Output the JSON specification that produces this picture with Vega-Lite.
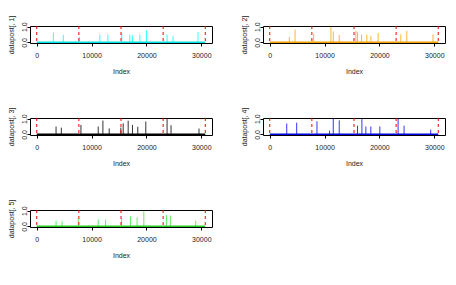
{
  "$schema": "https://vega.github.io/schema/vega-lite/v6.json",
  "background": "white",
  "padding": {"left": 6, "top": 14, "right": 0, "bottom": 0},
  "columns": 2,
  "spacing": {"row": 31, "column": 26},
  "config": {
    "view": {"stroke": "black", "strokeWidth": 1},
    "axis": {
      "grid": false, "domain": false, "tickColor": "black", "tickSize": 3, "tickWidth": 1,
      "labelFont": "Liberation Sans", "labelFontSize": 7, "labelColor": "#222",
      "titleFont": "Liberation Sans", "titleFontSize": 7, "titleFontWeight": "normal", "titleColor": "#222",
      "labelOverlap": false, "labelFlush": false
    },
    "axisX": {"labelPadding": 5, "titlePadding": 9, "labelBaseline": "top", "format": "d"},
    "axisY": {"labelAngle": -90, "labelAlign": "center", "labelBaseline": "alphabetic", "labelPadding": 1, "titlePadding": 6}
  },
  "datasets": {
    "vlines": [{"x": 0}, {"x": 7680}, {"x": 15360}, {"x": 23040}, {"x": 30720}],
    "s1": [
      {"i": 3030, "v": 0.62}, {"i": 4850, "v": 0.47}, {"i": 7750, "v": 0.35}, {"i": 11500, "v": 0.5}, {"i": 12970, "v": 0.51},
      {"i": 15500, "v": 0.6}, {"i": 16970, "v": 0.5}, {"i": 17450, "v": 0.44}, {"i": 18800, "v": 0.49}, {"i": 20000, "v": 0.76},
      {"i": 23760, "v": 0.5}, {"i": 24850, "v": 0.42}, {"i": 29400, "v": 0.66}
    ],
    "s2": [
      {"i": 3580, "v": 0.34}, {"i": 4620, "v": 0.82}, {"i": 8000, "v": 0.54}, {"i": 11160, "v": 0.99}, {"i": 11580, "v": 0.69},
      {"i": 12670, "v": 0.47}, {"i": 15700, "v": 0.74}, {"i": 16000, "v": 0.64}, {"i": 16730, "v": 0.49}, {"i": 17700, "v": 0.5},
      {"i": 18430, "v": 0.42}, {"i": 19760, "v": 0.6}, {"i": 23890, "v": 0.51}, {"i": 24980, "v": 0.74}, {"i": 29760, "v": 0.52}
    ],
    "s3": [
      {"i": 3520, "v": 0.5}, {"i": 4480, "v": 0.43}, {"i": 8060, "v": 0.6}, {"i": 11210, "v": 0.5}, {"i": 12060, "v": 0.88},
      {"i": 13210, "v": 0.38}, {"i": 15330, "v": 0.43}, {"i": 15760, "v": 0.7}, {"i": 16670, "v": 0.87}, {"i": 17450, "v": 0.6},
      {"i": 18420, "v": 0.48}, {"i": 19880, "v": 0.82}, {"i": 23760, "v": 0.97}, {"i": 24480, "v": 0.58}, {"i": 29580, "v": 0.37}
    ],
    "s4": [
      {"i": 3100, "v": 0.69}, {"i": 4910, "v": 0.74}, {"i": 8610, "v": 0.83}, {"i": 10910, "v": 0.24}, {"i": 11580, "v": 1.0},
      {"i": 12670, "v": 0.89}, {"i": 16000, "v": 0.55}, {"i": 16800, "v": 0.97}, {"i": 17520, "v": 0.5}, {"i": 18430, "v": 0.5},
      {"i": 20070, "v": 0.5}, {"i": 23400, "v": 1.0}, {"i": 24490, "v": 0.55}, {"i": 29340, "v": 0.3}
    ],
    "s5": [
      {"i": 3520, "v": 0.35}, {"i": 4610, "v": 0.32}, {"i": 7580, "v": 0.5}, {"i": 11210, "v": 0.44}, {"i": 12550, "v": 0.43},
      {"i": 15450, "v": 0.5}, {"i": 17090, "v": 0.63}, {"i": 18300, "v": 0.57}, {"i": 19520, "v": 0.95}, {"i": 23640, "v": 0.72},
      {"i": 24360, "v": 0.69}, {"i": 28970, "v": 0.36}
    ]
  },
  "concat": [
    {
      "width": 182, "height": 17,
      "layer": [
        {"data": {"name": "s1"}, "mark": {"type": "rule", "color": "#00FFFF", "strokeWidth": 0.8},
         "encoding": {
           "x": {"field": "i", "type": "quantitative", "title": "Index", "scale": {"domain": [-1228, 31948], "nice": false, "zero": false}, "axis": {"values": [0, 5000, 10000, 15000, 20000, 25000, 30000]}},
           "y": {"field": "v", "type": "quantitative", "title": "datapost[, 1]", "scale": {"domain": [-0.04, 1.04], "nice": false, "zero": false}, "axis": {"values": [0, 0.2, 0.4, 0.6, 0.8, 1.0], "labelExpr": "datum.value == 0 || datum.value == 1 ? format(datum.value, '.1f') : ''"}},
           "y2": {"datum": 0}
         }},
        {"data": {"values": [{}]}, "mark": {"type": "rule", "color": "#00E0E0", "strokeWidth": 1.5},
         "encoding": {"x": {"datum": 1, "type": "quantitative", "title": "Index"}, "x2": {"datum": 30720}, "y": {"datum": 0, "type": "quantitative", "title": "datapost[, 1]"}}},
        {"data": {"name": "vlines"}, "mark": {"type": "rule", "color": "#FF0000", "strokeWidth": 1, "strokeDash": [3, 3]},
         "encoding": {"x": {"field": "x", "type": "quantitative", "title": "Index"}}}
      ]
    },
    {
      "width": 182, "height": 17,
      "layer": [
        {"data": {"name": "s2"}, "mark": {"type": "rule", "color": "#FFA500", "strokeWidth": 0.8},
         "encoding": {
           "x": {"field": "i", "type": "quantitative", "title": "Index", "scale": {"domain": [-1228, 31948], "nice": false, "zero": false}, "axis": {"values": [0, 5000, 10000, 15000, 20000, 25000, 30000]}},
           "y": {"field": "v", "type": "quantitative", "title": "datapost[, 2]", "scale": {"domain": [-0.04, 1.04], "nice": false, "zero": false}, "axis": {"values": [0, 0.2, 0.4, 0.6, 0.8, 1.0], "labelExpr": "datum.value == 0 || datum.value == 1 ? format(datum.value, '.1f') : ''"}},
           "y2": {"datum": 0}
         }},
        {"data": {"values": [{}]}, "mark": {"type": "rule", "color": "#F0A000", "strokeWidth": 1.5},
         "encoding": {"x": {"datum": 1, "type": "quantitative", "title": "Index"}, "x2": {"datum": 30720}, "y": {"datum": 0, "type": "quantitative", "title": "datapost[, 2]"}}},
        {"data": {"name": "vlines"}, "mark": {"type": "rule", "color": "#FF0000", "strokeWidth": 1, "strokeDash": [3, 3]},
         "encoding": {"x": {"field": "x", "type": "quantitative", "title": "Index"}}}
      ]
    },
    {
      "width": 182, "height": 17,
      "layer": [
        {"data": {"name": "s3"}, "mark": {"type": "rule", "color": "#000000", "strokeWidth": 0.8},
         "encoding": {
           "x": {"field": "i", "type": "quantitative", "title": "Index", "scale": {"domain": [-1228, 31948], "nice": false, "zero": false}, "axis": {"values": [0, 5000, 10000, 15000, 20000, 25000, 30000]}},
           "y": {"field": "v", "type": "quantitative", "title": "datapost[, 3]", "scale": {"domain": [-0.04, 1.04], "nice": false, "zero": false}, "axis": {"values": [0, 0.2, 0.4, 0.6, 0.8, 1.0], "labelExpr": "datum.value == 0 || datum.value == 1 ? format(datum.value, '.1f') : ''"}},
           "y2": {"datum": 0}
         }},
        {"data": {"values": [{}]}, "mark": {"type": "rule", "color": "#000000", "strokeWidth": 1.5},
         "encoding": {"x": {"datum": 1, "type": "quantitative", "title": "Index"}, "x2": {"datum": 30720}, "y": {"datum": 0, "type": "quantitative", "title": "datapost[, 3]"}}},
        {"data": {"name": "vlines"}, "mark": {"type": "rule", "color": "#FF0000", "strokeWidth": 1, "strokeDash": [3, 3]},
         "encoding": {"x": {"field": "x", "type": "quantitative", "title": "Index"}}}
      ]
    },
    {
      "width": 182, "height": 17,
      "layer": [
        {"data": {"name": "s4"}, "mark": {"type": "rule", "color": "#0000FF", "strokeWidth": 0.8},
         "encoding": {
           "x": {"field": "i", "type": "quantitative", "title": "Index", "scale": {"domain": [-1228, 31948], "nice": false, "zero": false}, "axis": {"values": [0, 5000, 10000, 15000, 20000, 25000, 30000]}},
           "y": {"field": "v", "type": "quantitative", "title": "datapost[, 4]", "scale": {"domain": [-0.04, 1.04], "nice": false, "zero": false}, "axis": {"values": [0, 0.2, 0.4, 0.6, 0.8, 1.0], "labelExpr": "datum.value == 0 || datum.value == 1 ? format(datum.value, '.1f') : ''"}},
           "y2": {"datum": 0}
         }},
        {"data": {"values": [{}]}, "mark": {"type": "rule", "color": "#0000E0", "strokeWidth": 1.5},
         "encoding": {"x": {"datum": 1, "type": "quantitative", "title": "Index"}, "x2": {"datum": 30720}, "y": {"datum": 0, "type": "quantitative", "title": "datapost[, 4]"}}},
        {"data": {"name": "vlines"}, "mark": {"type": "rule", "color": "#FF0000", "strokeWidth": 1, "strokeDash": [3, 3]},
         "encoding": {"x": {"field": "x", "type": "quantitative", "title": "Index"}}}
      ]
    },
    {
      "width": 182, "height": 17,
      "layer": [
        {"data": {"name": "s5"}, "mark": {"type": "rule", "color": "#33EE33", "strokeWidth": 0.8},
         "encoding": {
           "x": {"field": "i", "type": "quantitative", "title": "Index", "scale": {"domain": [-1228, 31948], "nice": false, "zero": false}, "axis": {"values": [0, 5000, 10000, 15000, 20000, 25000, 30000]}},
           "y": {"field": "v", "type": "quantitative", "title": "datapost[, 5]", "scale": {"domain": [-0.04, 1.04], "nice": false, "zero": false}, "axis": {"values": [0, 0.2, 0.4, 0.6, 0.8, 1.0], "labelExpr": "datum.value == 0 || datum.value == 1 ? format(datum.value, '.1f') : ''"}},
           "y2": {"datum": 0}
         }},
        {"data": {"values": [{}]}, "mark": {"type": "rule", "color": "#22CC22", "strokeWidth": 1.5},
         "encoding": {"x": {"datum": 1, "type": "quantitative", "title": "Index"}, "x2": {"datum": 30720}, "y": {"datum": 0, "type": "quantitative", "title": "datapost[, 5]"}}},
        {"data": {"name": "vlines"}, "mark": {"type": "rule", "color": "#FF0000", "strokeWidth": 1, "strokeDash": [3, 3]},
         "encoding": {"x": {"field": "x", "type": "quantitative", "title": "Index"}}}
      ]
    }
  ]
}
